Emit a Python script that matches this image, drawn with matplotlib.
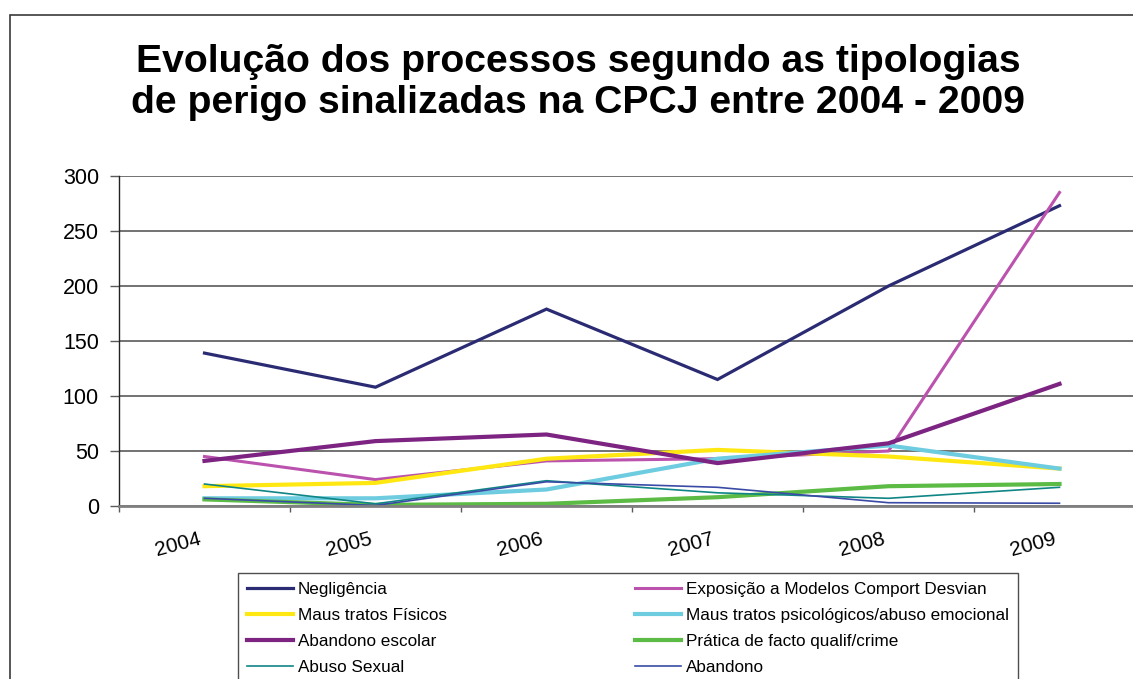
import matplotlib
matplotlib.use("Agg")
import matplotlib.pyplot as plt
from matplotlib.patches import Rectangle
from matplotlib.ticker import FixedLocator, NullFormatter
from matplotlib.transforms import ScaledTranslation

plt.rcParams['font.family'] = ['Liberation Sans', 'DejaVu Sans']

years = ['2004', '2005', '2006', '2007', '2008', '2009']
y_ticks = [0, 50, 100, 150, 200, 250, 300]

negligencia = [139, 108, 179, 115, 200, 273]
exposicao = [45, 24, 41, 43, 50, 285]
maus_fisicos = [18, 21, 43, 51, 45, 34]
maus_psico = [7, 7, 15, 43, 55, 34]
abandono_escolar = [41, 59, 65, 39, 57, 111]
pratica = [6, 1, 2, 8, 18, 20]
abuso_sexual = [20, 2, 23, 12, 7, 17]
abandono = [7, 0.5, 22, 17, 3, 2.5]

series = [
    ('Negligência', negligencia, '#2B2B74', 2.3),
    ('Exposição a Modelos Comport Desvian', exposicao, '#BB52AE', 2.2),
    ('Maus tratos Físicos', maus_fisicos, '#FFE812', 3.0),
    ('Maus tratos psicológicos/abuso emocional', maus_psico, '#6DCCDF', 3.0),
    ('Abandono escolar', abandono_escolar, '#7D2382', 3.0),
    ('Prática de facto qualif/crime', pratica, '#5CBB45', 3.0),
    ('Abuso Sexual', abuso_sexual, '#0F8585', 1.2),
    ('Abandono', abandono, '#3A4BA6', 1.2),
]

W, H = 1133, 679
fig = plt.figure(figsize=(W / 100, H / 100), dpi=100)

# outer chart border
fig.patches.append(Rectangle((10 / W, -0.1), 1.2, 1 - 15 / H + 0.1,
                             transform=fig.transFigure, fill=False,
                             edgecolor='#3a3a3a', lw=1.2))

ax = fig.add_axes([119 / W, 1 - 506 / H, 1026 / W, 330 / H])
x = list(range(len(years)))
handles = {}
for name, vals, col, lw in series:
    ln, = ax.plot(x, vals, color=col, lw=lw, label=name, solid_joinstyle='miter')
    handles[name] = ln

ax.set_xlim(-0.5, len(years) - 0.5)
ax.set_ylim(0, 300)
ax.set_yticks(y_ticks)
ax.yaxis.grid(True, color='#5a5a5a', lw=1.2)
ax.set_axisbelow(True)
ax.tick_params(axis='y', length=6.5, width=1, color='#5a5a5a', pad=8, labelsize=15.5)

ax.set_xticks(x)
ax.set_xticklabels(years, rotation=15, ha='right', va='top', rotation_mode='anchor')
ax.tick_params(axis='x', which='major', length=0, pad=17, labelsize=15)
ax.xaxis.set_minor_locator(FixedLocator([i - 0.5 for i in range(len(years) + 1)]))
ax.xaxis.set_minor_formatter(NullFormatter())
ax.tick_params(axis='x', which='minor', length=4.3, width=1, color='#5a5a5a')
shift = ScaledTranslation(-6 / 100, 0, fig.dpi_scale_trans)
for lab in ax.get_xticklabels():
    lab.set_transform(lab.get_transform() + shift)

ax.spines['top'].set_visible(False)
ax.spines['right'].set_visible(False)
ax.spines['left'].set_color('#222222')
ax.spines['left'].set_linewidth(1)
ax.spines['bottom'].set_color('#808080')
ax.spines['bottom'].set_linewidth(2)

# title
fig.text(578 / W, 1 - 72 / H, 'Evolução dos processos segundo as tipologias',
         ha='center', va='baseline', fontsize=28.2, fontweight='bold')
fig.text(578 / W, 1 - 113 / H, 'de perigo sinalizadas na CPCJ entre 2004 - 2009',
         ha='center', va='baseline', fontsize=28.2, fontweight='bold')

order = ['Negligência', 'Maus tratos Físicos', 'Abandono escolar', 'Abuso Sexual',
         'Exposição a Modelos Comport Desvian',
         'Maus tratos psicológicos/abuso emocional',
         'Prática de facto qualif/crime', 'Abandono']
leg = fig.legend([handles[n] for n in order], order, ncol=2,
                 loc='upper left', bbox_to_anchor=(238 / W, 1 - 573 / H),
                 fontsize=12.3, frameon=True, fancybox=False, shadow=False,
                 handlelength=2.7, handletextpad=0.3, labelspacing=0.66,
                 borderpad=0.5, borderaxespad=0, columnspacing=11.0)
leg.get_frame().set_edgecolor('#222222')
leg.get_frame().set_linewidth(1)

fig.savefig('out.png', dpi=100)
